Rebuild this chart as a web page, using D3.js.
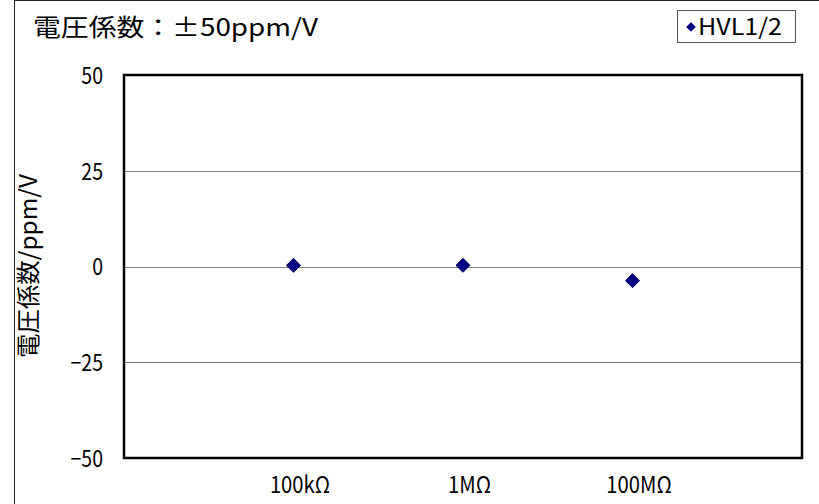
<!DOCTYPE html>
<html><head><meta charset="utf-8">
<script src="https://cdn.jsdelivr.net/npm/d3@7"></script>
<style>
html,body{margin:0;padding:0;background:#fff;overflow:hidden}
text{font-family:"Noto Sans CJK JP","Noto Sans",sans-serif;fill:#000}
</style></head>
<body>
<svg id="c" width="819" height="504"></svg>
<script>
const categories = ["100kΩ", "1MΩ", "100MΩ"];
const seriesName = "HVL1/2";
const values = [0.3, 0.3, -3.7];
const yTicks = [-50, -25, 0, 25, 50];
const titleText = "電圧係数：±50ppm/V";
const yTitle = "電圧係数/ppm/V";

const svg = d3.select("#c");
const plot = {l: 124, r: 802, t: 75, b: 458};

function squeeze(sel, f) {
  sel.each(function () {
    const w = this.getComputedTextLength();
    d3.select(this).attr("textLength", w * f).attr("lengthAdjust", "spacingAndGlyphs");
  });
}

// outer chart border
svg.append("rect").attr("x", 14.5).attr("y", 0.5).attr("width", 900).attr("height", 900)
  .attr("fill", "#fff").attr("stroke", "#222").attr("stroke-width", 1);

const x = d3.scaleLinear().domain([0, categories.length + 1]).range([plot.l, plot.r]);
const y = d3.scaleLinear().domain([-50, 50]).range([plot.b, plot.t]);

// gridlines
svg.append("g").selectAll("line").data(yTicks.filter(d => d !== -50 && d !== 50)).join("line")
  .attr("x1", plot.l).attr("x2", plot.r)
  .attr("y1", d => Math.round(y(d)) + 0.5).attr("y2", d => Math.round(y(d)) + 0.5)
  .attr("stroke", "#808080").attr("stroke-width", 1);

// y axis labels
const yAxis = d3.axisLeft(y).tickValues(yTicks).tickSize(0).tickPadding(21)
  .tickFormat(d => d < 0 ? "−" + Math.abs(d) : d);
const ya = svg.append("g").attr("transform", `translate(${plot.l},0)`).call(yAxis);
ya.select(".domain").remove();
ya.selectAll("text").attr("font-size", 23).attr("font-family", null).attr("dy", "0.36em");
squeeze(ya.selectAll("text"), 0.85);

// x axis labels
const xAxis = d3.axisBottom(x).tickValues(categories.map((c, i) => i + 1)).tickSize(0).tickPadding(19)
  .tickFormat((d) => categories[d - 1]);
const xa = svg.append("g").attr("transform", `translate(0,${plot.b})`).call(xAxis);
xa.select(".domain").remove();
xa.selectAll("text").attr("font-size", 23).attr("font-family", null).attr("dx", 6);
squeeze(xa.selectAll("text"), 0.88);

// plot border
svg.append("rect").attr("x", plot.l).attr("y", plot.t)
  .attr("width", plot.r - plot.l).attr("height", plot.b - plot.t)
  .attr("fill", "none").attr("stroke", "#000").attr("stroke-width", 2.5);

// markers
const diamond = d3.symbol().type(d3.symbolDiamond2).size(125);
svg.append("g").selectAll("path").data(values).join("path")
  .attr("d", diamond)
  .attr("transform", (d, i) => `translate(${x(i + 1)},${y(d)})`)
  .attr("fill", "#000080").attr("stroke", "#000060").attr("stroke-width", 1);

// title
svg.append("text").attr("x", 33).attr("y", 36).attr("font-size", 24)
  .attr("textLength", 285).attr("lengthAdjust", "spacingAndGlyphs").text(titleText);

// y title
svg.append("text").attr("transform", "translate(37,266) rotate(-90)")
  .attr("text-anchor", "middle").attr("font-size", 24)
  .attr("textLength", 184).attr("lengthAdjust", "spacingAndGlyphs").text(yTitle);

// legend
const lg = svg.append("g");
lg.append("rect").attr("x", 677.5).attr("y", 10.5).attr("width", 118).attr("height", 32)
  .attr("fill", "#fff").attr("stroke", "#555").attr("stroke-width", 1);
lg.append("path").attr("d", d3.symbol().type(d3.symbolDiamond2).size(60))
  .attr("transform", "translate(691,27)").attr("fill", "#000080");
lg.append("text").attr("x", 698).attr("y", 35).attr("font-size", 23)
  .attr("textLength", 84).attr("lengthAdjust", "spacingAndGlyphs").text(seriesName);
</script>
</body></html>
